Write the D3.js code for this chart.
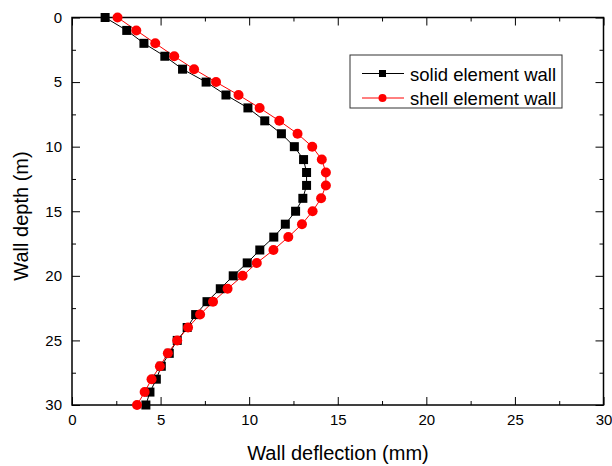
<!DOCTYPE html>
<html>
<head>
<meta charset="utf-8">
<script src="https://cdn.jsdelivr.net/npm/d3@7"></script>
<style>
  body { margin: 0; background: #fff; }
  svg { display: block; font-family: Arial, "Liberation Sans", sans-serif; }
</style>
</head>
<body>
<div id="chart"></div>
<script>
// depth (m) for each reading
const depth = d3.range(0, 31);

// wall deflection (mm)
const solidWall = [1.87, 3.09, 4.06, 5.24, 6.24, 7.57, 8.69, 9.93, 10.88, 11.82,
  12.55, 13.07, 13.24, 13.24, 13.03, 12.62, 12.04, 11.39, 10.6, 9.89,
  9.10, 8.37, 7.62, 6.98, 6.50, 5.94, 5.49, 5.04, 4.76, 4.40, 4.17];
const shellWall = [2.57, 3.63, 4.70, 5.77, 6.89, 8.13, 9.40, 10.59, 11.70, 12.73,
  13.56, 14.10, 14.33, 14.33, 14.06, 13.58, 12.98, 12.21, 11.37, 10.43,
  9.63, 8.78, 7.96, 7.23, 6.55, 5.94, 5.41, 4.96, 4.49, 4.10, 3.67];

const xTicks = [0, 5, 10, 15, 20, 25, 30];
const yTicks = [0, 5, 10, 15, 20, 25, 30];
const minorTicks = [2.5, 7.5, 12.5, 17.5, 22.5, 27.5];

const width = 612, height = 466;
const plotL = 72, plotR = 603.5, plotT = 17.5, plotB = 405;

const svg = d3.select("#chart").append("svg")
    .attr("width", width)
    .attr("height", height);

const x = d3.scaleLinear().domain([0, 30]).range([plotL, plotR]);
const y = d3.scaleLinear().domain([0, 30]).range([plotT, plotB]);

// axes, ticks point inward on all four sides
const axisStyle = g => {
    g.select(".domain").remove();
    g.selectAll("line").attr("stroke", "#000");
    g.selectAll("text").attr("font-size", 15).attr("fill", "#000");
};

svg.append("g").attr("transform", `translate(0,${plotB})`)
    .call(d3.axisBottom(x).tickValues(xTicks).tickSizeInner(-8).tickSizeOuter(0).tickPadding(9))
    .call(axisStyle);
svg.append("g").attr("transform", `translate(0,${plotB})`)
    .call(d3.axisBottom(x).tickValues(minorTicks).tickSizeInner(-4).tickSizeOuter(0).tickFormat(""))
    .call(axisStyle);
svg.append("g").attr("transform", `translate(0,${plotT})`)
    .call(d3.axisTop(x).tickValues(xTicks).tickSizeInner(-8).tickSizeOuter(0).tickFormat(""))
    .call(axisStyle);
svg.append("g").attr("transform", `translate(0,${plotT})`)
    .call(d3.axisTop(x).tickValues(minorTicks).tickSizeInner(-4).tickSizeOuter(0).tickFormat(""))
    .call(axisStyle);

svg.append("g").attr("transform", `translate(${plotL},0)`)
    .call(d3.axisLeft(y).tickValues(yTicks).tickSizeInner(-8).tickSizeOuter(0).tickPadding(10))
    .call(axisStyle);
svg.append("g").attr("transform", `translate(${plotL},0)`)
    .call(d3.axisLeft(y).tickValues(minorTicks).tickSizeInner(-4).tickSizeOuter(0).tickFormat(""))
    .call(axisStyle);
svg.append("g").attr("transform", `translate(${plotR},0)`)
    .call(d3.axisRight(y).tickValues(yTicks).tickSizeInner(-8).tickSizeOuter(0).tickFormat(""))
    .call(axisStyle);
svg.append("g").attr("transform", `translate(${plotR},0)`)
    .call(d3.axisRight(y).tickValues(minorTicks).tickSizeInner(-4).tickSizeOuter(0).tickFormat(""))
    .call(axisStyle);

svg.append("rect")
    .attr("x", plotL).attr("y", plotT)
    .attr("width", plotR - plotL).attr("height", plotB - plotT)
    .attr("fill", "none").attr("stroke", "#000").attr("stroke-width", 1.5);

// axis titles
svg.append("text")
    .attr("x", 338).attr("y", 460)
    .attr("text-anchor", "middle")
    .attr("font-size", 20)
    .text("Wall deflection (mm)");
svg.append("text")
    .attr("transform", "translate(28,216) rotate(-90)")
    .attr("text-anchor", "middle")
    .attr("font-size", 20)
    .text("Wall depth (m)");

// series
const line = d3.line().x(d => x(d[0])).y(d => y(d[1]));
const solidPts = depth.map((d, i) => [solidWall[i], d]);
const shellPts = depth.map((d, i) => [shellWall[i], d]);

svg.append("path").datum(solidPts)
    .attr("d", line).attr("fill", "none").attr("stroke", "#000").attr("stroke-width", 1);
svg.append("path").datum(shellPts)
    .attr("d", line).attr("fill", "none").attr("stroke", "#ff0000").attr("stroke-width", 1);

svg.selectAll(".sq").data(solidPts).enter().append("rect")
    .attr("class", "sq")
    .attr("x", d => x(d[0]) - 4.5).attr("y", d => y(d[1]) - 4.5)
    .attr("width", 9).attr("height", 9)
    .attr("fill", "#000");

svg.selectAll(".dot").data(shellPts).enter().append("circle")
    .attr("class", "dot")
    .attr("cx", d => x(d[0])).attr("cy", d => y(d[1]))
    .attr("r", 5)
    .attr("fill", "#ff0000");

// legend
const legend = svg.append("g");
legend.append("rect")
    .attr("x", 350).attr("y", 55).attr("width", 212).attr("height", 53)
    .attr("fill", "#fff").attr("stroke", "#333").attr("stroke-width", 1);

const items = [
    { name: "solid element wall", color: "#000", shape: "square" },
    { name: "shell element wall", color: "#ff0000", shape: "circle" }
];
items.forEach((it, i) => {
    const cy = 73.5 + i * 24.5;
    legend.append("line")
        .attr("x1", 362).attr("x2", 404).attr("y1", cy).attr("y2", cy)
        .attr("stroke", it.color).attr("stroke-width", 1);
    if (it.shape === "square") {
        legend.append("rect").attr("x", 379).attr("y", cy - 3.5).attr("width", 7).attr("height", 7).attr("fill", it.color);
    } else {
        legend.append("circle").attr("cx", 382.5).attr("cy", cy).attr("r", 4).attr("fill", it.color);
    }
    legend.append("text")
        .attr("x", 410).attr("y", cy + 7)
        .attr("font-size", 18.5)
        .text(it.name);
});
</script>
</body>
</html>
